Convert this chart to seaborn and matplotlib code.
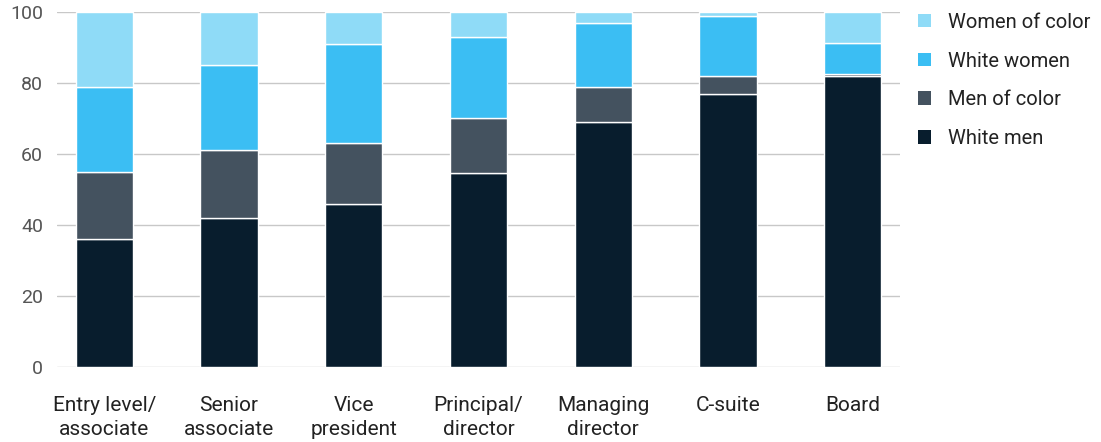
import matplotlib
matplotlib.use("Agg")
import matplotlib.pyplot as plt
from matplotlib.patches import Patch
import numpy as np
import pandas as pd
import seaborn as sns

# Share of each group by corporate level (%)
levels = ["Entry level/\nassociate", "Senior\nassociate", "Vice\npresident",
          "Principal/\ndirector", "Managing\ndirector", "C-suite", "Board"]
white_men = [36, 42, 46, 54.6, 69, 77, 82]
men_of_color = [19, 19, 17, 15.4, 10, 5, 0.4]
white_women = [24, 24, 28, 23, 18, 17, 9]
women_of_color = [21, 15, 9, 7, 3, 1, 8.6]

groups = ["White men", "Men of color", "White women", "Women of color"]
values = [white_men, men_of_color, white_women, women_of_color]
colors = ["#081d2d", "#44525f", "#3bbef3", "#8fdbf7"]

sns.set_theme(style="white")
plt.rcParams["font.family"] = ["Roboto", "DejaVu Sans"]

fig = plt.figure(figsize=(11.01, 4.42), dpi=100)
ax = fig.add_axes([0.0518, 0.1697, 0.7656, 0.8032])

bottom = np.zeros(len(levels))
for grp, vals, col in zip(groups, values, colors):
    df = pd.DataFrame({"level": levels, "value": vals})
    sns.barplot(data=df, x="level", y="value", color=col, bottom=bottom,
                width=0.46, edgecolor="white", linewidth=1.0,
                saturation=1, ax=ax, zorder=3)
    bottom += np.array(vals)

ax.set_ylim(0, 100)
ax.set_xlim(-0.38, 6.38)
ax.set_yticks([0, 20, 40, 60, 80, 100])
ax.yaxis.grid(True, color="#c8c8c8", linewidth=1.0, zorder=0)
ax.set_axisbelow(True)
for s in ax.spines.values():
    s.set_visible(False)
ax.set_xlabel("")
ax.set_ylabel("")
ax.tick_params(axis="y", length=0, pad=10, labelsize=14, labelcolor="#555555")
ax.tick_params(axis="x", length=0, pad=21, labelsize=15, labelcolor="#222222")
for lab in ax.get_xticklabels():
    lab.set_linespacing(1.3)

handles = [Patch(facecolor=c, edgecolor="none", label=g)
           for g, c in zip(groups, colors)][::-1]
fig.legend(handles=handles, loc="upper left", bbox_to_anchor=(0.817, 1.012),
           frameon=False, fontsize=14.5, handlelength=0.65, handleheight=0.65,
           handletextpad=0.85, labelspacing=0.98, labelcolor="#222222")

fig.savefig("out.png", dpi=100)
